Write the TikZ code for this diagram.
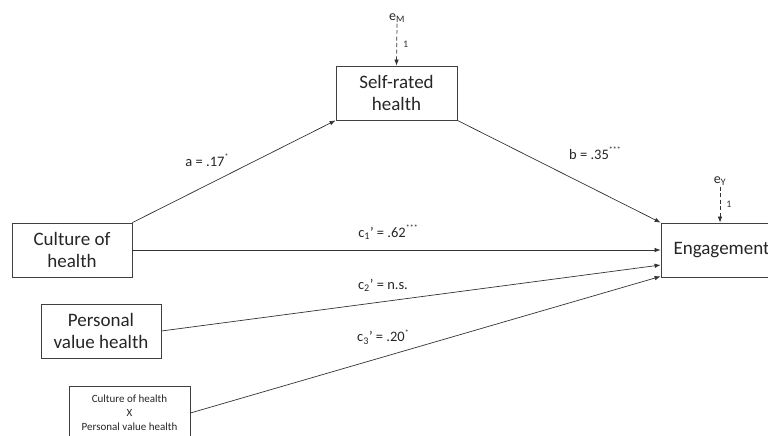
\documentclass[tikz,border=0pt]{standalone}
\usepackage{fontspec}
\setmainfont{Carlito}
\usetikzlibrary{arrows.meta,calc}
\newcommand{\stars}[1]{\raisebox{0.45em}{\fontsize{8}{8}\selectfont #1}}
\begin{document}
\begin{tikzpicture}[x=1pt,y=-1pt,
  box/.style={draw=black!75,line width=0.8pt,rectangle,inner sep=0pt,align=center,text=black!85,font=\fontsize{19}{22}\selectfont},
  path/.style={draw=black!80,line width=0.7pt,-{Latex[length=6pt,width=4.5pt]}},
  err/.style={draw=black!80,line width=0.7pt,dash pattern=on 4pt off 2.5pt,-{Latex[length=6pt,width=4.5pt]}},
  lab/.style={font=\fontsize{14.5}{16}\selectfont,text=black!85,inner sep=0pt},
  small/.style={font=\fontsize{10}{10}\selectfont,text=black!80,inner sep=0pt}]
\useasboundingbox (0,0) rectangle (768,436);
\clip (0,0) rectangle (768,436);
\fill[white] (0,0) rectangle (768,436);
\node[box,minimum width=121pt,minimum height=54pt] (srh) at (396.5,93) {Self-rated\\health};
\node[box,minimum width=120pt,minimum height=54pt] (coh) at (72,250) {Culture of\\health};
\node[box,minimum width=120pt,minimum height=54pt] (pvh) at (101,331) {Personal\\value health};
\node[box,minimum width=121pt,minimum height=54pt,font=\fontsize{11}{14}\selectfont] (int) at (129.5,413) {Culture of health\\X\\Personal value health};
\node[box,minimum width=121pt,minimum height=54pt] (eng) at (721.5,250) {Engagement};
\node[font=\fontsize{14}{14}\selectfont,text=black!85,inner sep=1pt] (eM) at (397,18) {e\textsubscript{M}};
\node[font=\fontsize{14}{14}\selectfont,text=black!85,inner sep=1pt] (eY) at (720,181) {e\textsubscript{Y}};
\draw[err] (eM.south) -- (srh.north) node[small,midway,right=6pt] {1};
\draw[err] (eY.south) -- (eY.south |- eng.north) node[small,midway,right=6pt] {1};
\draw[path] (coh.north east) -- (srh.south west);
\draw[path] (srh.south east) -- (eng.north west);
\draw[path] (coh.east) -- (eng.west);
\draw[path] (pvh.east) -- ($(eng.west)+(0,15)$);
\draw[path] (int.east) -- ($(eng.south west)+(0,-1)$);
\node[lab] (la) at (207,160) {a = .17\stars{*}};
\node[lab] (lb) at (595,153) {b = .35\stars{***}};
\node[lab] (lc1) at (388,232) {c\textsubscript{1}’ = .62\stars{***}};
\node[lab] (lc2) at (383,285) {c\textsubscript{2}’ = n.s.};
\node[lab] (lc3) at (383,337) {c\textsubscript{3}’ = .20\stars{*}};
\end{tikzpicture}
\end{document}
